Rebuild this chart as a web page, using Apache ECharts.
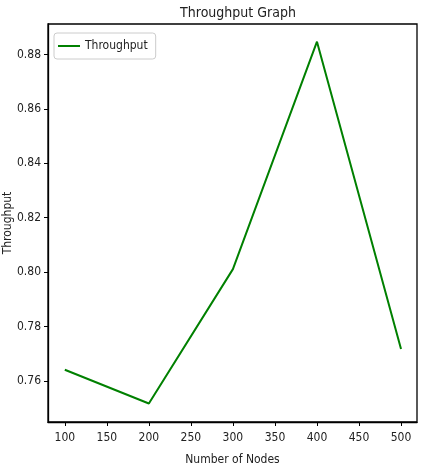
<!DOCTYPE html>
<html>
<head>
<meta charset="utf-8">
<script src="https://cdn.jsdelivr.net/npm/echarts@6/dist/echarts.min.js"></script>
<style>
  html, body { margin: 0; padding: 0; background: #fff; }
  #main { width: 427px; height: 471px; }
</style>
</head>
<body>
<div id="main"></div>
<script>
// values
const nodes = [100, 200, 300, 400, 500];
const throughput = [0.7641, 0.7517, 0.8011, 0.8847, 0.7717];
const xTicks = [100, 150, 200, 250, 300, 350, 400, 450, 500];
const yTicks = [0.76, 0.78, 0.8, 0.82, 0.84, 0.86, 0.88];

const font = "'DejaVu Sans Condensed', 'DejaVu Sans', sans-serif";

var chartDom = document.getElementById("main");
var myChart = echarts.init(chartDom);
var option;

option = {
  animation: false,
  title: {
    text: "Throughput Graph",
    left: 233,
    textAlign: "center",
    top: 1,
    textStyle: { fontFamily: font, fontWeight: "normal", fontSize: 14, color: "#222" },
  },
  legend: {
    left: 54,
    top: 33,
    padding: [7, 8, 7, 4],
    backgroundColor: "#fff",
    borderColor: "#ccc",
    borderWidth: 1,
    borderRadius: 3,
    itemWidth: 22,
    itemHeight: 2,
    icon: "rect",
    textStyle: { fontFamily: font, fontSize: 12, color: "#222" },
  },
  grid: {
    left: 48,
    right: 10,
    top: 24,
    bottom: 49,
    outerBoundsMode: "none",
    containLabel: false,
    show: true,
    borderColor: "#000",
    borderWidth: 1.3,
  },
  xAxis: {
    type: "value",
    min: 80,
    max: 519,
    name: "Number of Nodes",
    nameLocation: "middle",
    nameGap: 32,
    nameTextStyle: { fontFamily: font, fontSize: 12, color: "#222" },
    axisLine: { lineStyle: { color: "#000", width: 1.3 } },
    axisTick: { customValues: xTicks, length: 4, lineStyle: { color: "#000" } },
    axisLabel: {
      customValues: xTicks,
      fontFamily: font,
      fontSize: 12,
      color: "#222",
      margin: 10,
    },
    splitLine: { show: false },
  },
  yAxis: {
    type: "value",
    min: 0.7449,
    max: 0.8912,
    name: "Throughput",
    nameLocation: "middle",
    nameGap: 34,
    nameMoveOverlap: false,
    nameTextStyle: { fontFamily: font, fontSize: 12, color: "#222" },
    axisLine: { show: true, lineStyle: { color: "#000", width: 1.3 } },
    axisTick: { show: true, customValues: yTicks, length: 4, lineStyle: { color: "#000" } },
    axisLabel: {
      customValues: yTicks,
      fontFamily: font,
      fontSize: 12,
      color: "#222",
      margin: 7,
      formatter: (v) => v.toFixed(2),
    },
    splitLine: { show: false },
  },
  series: [
    {
      name: "Throughput",
      type: "line",
      data: nodes.map((n, i) => [n, throughput[i]]),
      showSymbol: false,
      lineStyle: { color: "#008000", width: 2 },
      itemStyle: { color: "#008000" },
    },
  ],
};

option && myChart.setOption(option);
</script>
</body>
</html>
